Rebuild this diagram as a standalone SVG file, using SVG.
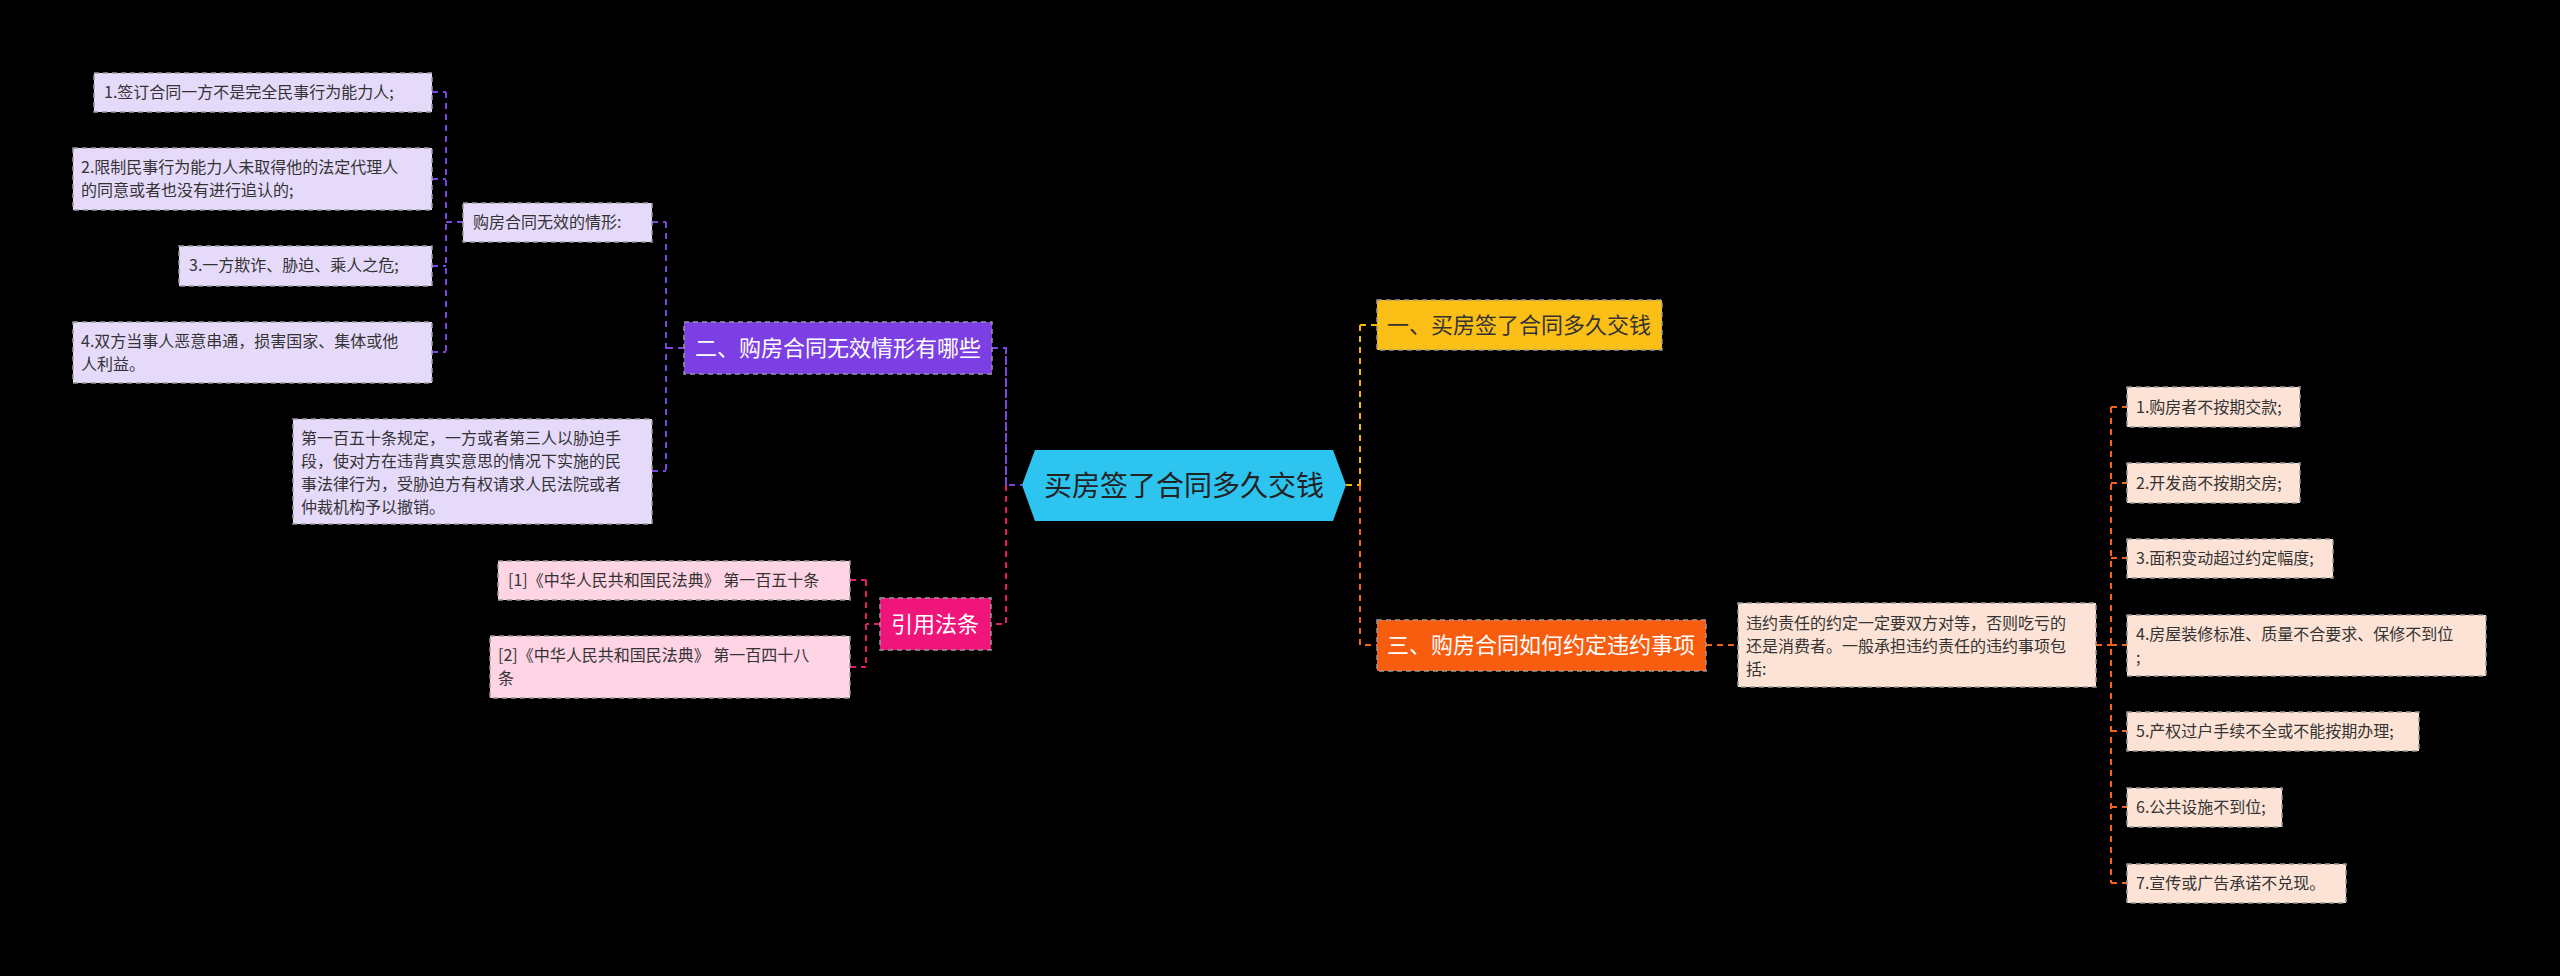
<svg xmlns="http://www.w3.org/2000/svg" width="2560" height="976" viewBox="0 0 2560 976">
<style>
text{font-family:"Noto Sans CJK SC","Liberation Sans",sans-serif;}
.leaf{font-size:16px;fill:#333;}
.br{font-size:22px;fill:#fff;}
.c{fill:none;stroke-width:2;stroke-dasharray:6,5;}
.bd{stroke:#999;stroke-width:1.5;stroke-dasharray:5,4;}
.pu{fill:#e6dafb;} .pk{fill:#ffd4e5;} .or{fill:#fde3d6;}
</style>
<rect width="2560" height="976" fill="#000"/>
<g id="connectors">
<path class="c" stroke="#7d45e0" d="M992 348H1006V485H1022M1006 348V485"/>
<path class="c" stroke="#e8196f" d="M1006 485V624H991"/>
<path class="c" stroke="#7d45e0" d="M684 348H666M666 222V471M652 222H666M652 471H666"/>
<path class="c" stroke="#7d45e0" d="M463 222H446M446 92V352M432 92H446M432 179H446M432 266H446M432 352H446"/>
<path class="c" stroke="#e8196f" d="M880 624H866M866 580V667M850 580H866M850 667H866"/>
<path class="c" stroke="#f5b800" d="M1346 485H1360M1360 325V485M1360 325H1377"/>
<path class="c" stroke="#f4621c" d="M1360 485V645H1377M1706 645H1738"/>
<path class="c" stroke="#f4621c" d="M2096 645H2111M2111 407V883M2111 407H2127M2111 483H2127M2111 558H2127M2111 645H2127M2111 731H2127M2111 807H2127M2111 883H2127"/>
</g>
<g id="center"><polygon points="1022,485 1035,450 1333,450 1346,485 1333,521 1035,521" fill="#2ec4f0"/><text x="1184" y="496" font-size="28" fill="#222" text-anchor="middle">买房签了合同多久交钱</text></g>
<g id="b2"><rect x="684" y="322" width="308" height="52" fill="#7b3fe4" class="bd"/><text class="br" x="838" y="356" text-anchor="middle">二、购房合同无效情形有哪些</text></g>
<g id="sub"><rect x="463" y="203" width="189" height="39" class="pu bd"/><text class="leaf" x="473" y="228">购房合同无效的情形:</text></g>
<g id="p1"><rect x="94" y="73" width="338" height="39" class="pu bd"/><text class="leaf" x="104" y="98">1.签订合同一方不是完全民事行为能力人;</text></g>
<g id="p2"><rect x="73" y="148" width="359" height="62" class="pu bd"/><text class="leaf" x="81" y="173">2.限制民事行为能力人未取得他的法定代理人</text><text class="leaf" x="81" y="196">的同意或者也没有进行追认的;</text></g>
<g id="p3"><rect x="179" y="246" width="253" height="40" class="pu bd"/><text class="leaf" x="189" y="271">3.一方欺诈、胁迫、乘人之危;</text></g>
<g id="p4"><rect x="73" y="322" width="359" height="61" class="pu bd"/><text class="leaf" x="81" y="347">4.双方当事人恶意串通，损害国家、集体或他</text><text class="leaf" x="81" y="370">人利益。</text></g>
<g id="p5"><rect x="293" y="419" width="359" height="105" class="pu bd"/><text class="leaf" x="301" y="444">第一百五十条规定，一方或者第三人以胁迫手</text><text class="leaf" x="301" y="467">段，使对方在违背真实意思的情况下实施的民</text><text class="leaf" x="301" y="490">事法律行为，受胁迫方有权请求人民法院或者</text><text class="leaf" x="301" y="513">仲裁机构予以撤销。</text></g>
<g id="ref"><rect x="880" y="598" width="111" height="52" fill="#f0157a" class="bd"/><text class="br" x="935" y="632" text-anchor="middle">引用法条</text></g>
<g id="r1"><rect x="498" y="561" width="352" height="39" class="pk bd"/><text class="leaf" x="508" y="586">[1]《中华人民共和国民法典》 第一百五十条</text></g>
<g id="r2"><rect x="490" y="636" width="360" height="62" class="pk bd"/><text class="leaf" x="498" y="661">[2]《中华人民共和国民法典》 第一百四十八</text><text class="leaf" x="498" y="684">条</text></g>
<g id="b1"><rect x="1377" y="300" width="285" height="50" fill="#fbbf15" class="bd"/><text x="1519" y="333" font-size="22" fill="#333" text-anchor="middle">一、买房签了合同多久交钱</text></g>
<g id="b3"><rect x="1377" y="620" width="329" height="51" fill="#f75c0f" class="bd"/><text class="br" x="1541" y="653" text-anchor="middle">三、购房合同如何约定违约事项</text></g>
<g id="desc"><rect x="1738" y="603" width="358" height="84" class="or bd"/><text class="leaf" x="1746" y="629">违约责任的约定一定要双方对等，否则吃亏的</text><text class="leaf" x="1746" y="652">还是消费者。一般承担违约责任的违约事项包</text><text class="leaf" x="1746" y="675">括:</text></g>
<g id="o1"><rect x="2127" y="387" width="173" height="40" class="or bd"/><text class="leaf" x="2136" y="413">1.购房者不按期交款;</text></g>
<g id="o2"><rect x="2127" y="463" width="173" height="40" class="or bd"/><text class="leaf" x="2136" y="489">2.开发商不按期交房;</text></g>
<g id="o3"><rect x="2127" y="539" width="206" height="39" class="or bd"/><text class="leaf" x="2136" y="564">3.面积变动超过约定幅度;</text></g>
<g id="o4"><rect x="2127" y="615" width="359" height="61" class="or bd"/><text class="leaf" x="2136" y="640">4.房屋装修标准、质量不合要求、保修不到位</text><text class="leaf" x="2136" y="663">;</text></g>
<g id="o5"><rect x="2127" y="712" width="292" height="39" class="or bd"/><text class="leaf" x="2136" y="737">5.产权过户手续不全或不能按期办理;</text></g>
<g id="o6"><rect x="2127" y="788" width="155" height="39" class="or bd"/><text class="leaf" x="2136" y="813">6.公共设施不到位;</text></g>
<g id="o7"><rect x="2127" y="864" width="219" height="39" class="or bd"/><text class="leaf" x="2136" y="889">7.宣传或广告承诺不兑现。</text></g>
</svg>
